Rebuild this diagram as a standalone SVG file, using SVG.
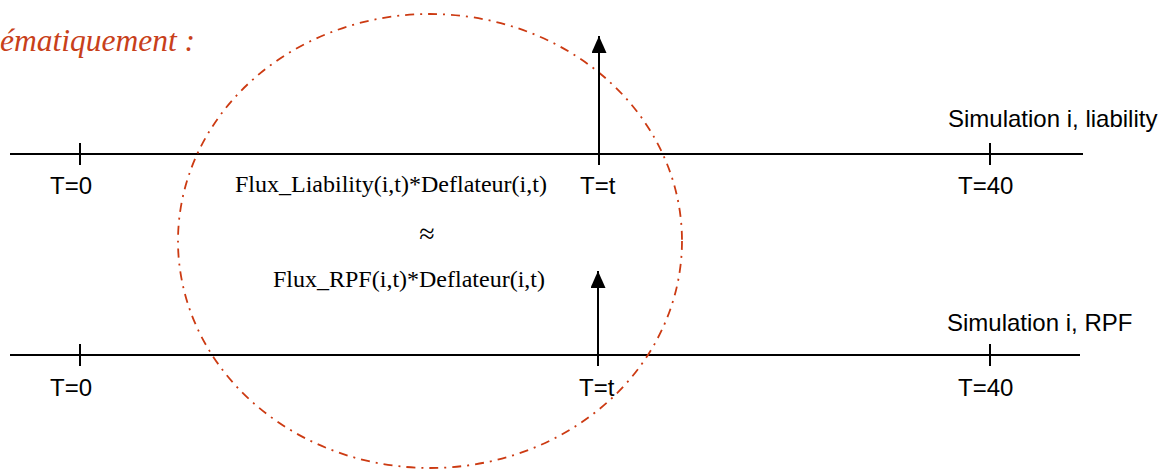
<svg xmlns="http://www.w3.org/2000/svg" width="1169" height="469" viewBox="0 0 1169 469">
<defs>
<style>
.ax{stroke:#000;stroke-width:2;fill:none}
.lbl{font-family:"Liberation Sans",Arial,sans-serif;font-size:24px;fill:#000}
.tm{font-family:"Liberation Serif","Times New Roman",serif;font-size:24px;fill:#000}
.ttl{font-family:"Liberation Serif","Times New Roman",serif;font-style:italic;font-size:31.5px;fill:#C8401A}
.circ{fill:none;stroke:#CC3A12;stroke-width:1.8;stroke-dasharray:9 6 2 6}
</style>
<marker id="ah" markerWidth="17" markerHeight="15" refX="17" refY="7.5" orient="auto" markerUnits="userSpaceOnUse" viewBox="0 0 17 15">
<path d="M0,0 L17,7.5 L0,15 Z" fill="#000"/>
</marker>
</defs>
<rect width="1169" height="469" fill="#fff"/>
<text class="ttl" x="0" y="51">ématiquement :</text>
<g id="timeline-liability">
<line class="ax" x1="10" y1="154" x2="1083" y2="154"/>
<line class="ax" x1="80" y1="143" x2="80" y2="165"/>
<line class="ax" x1="599" y1="143" x2="599" y2="165"/>
<line class="ax" x1="990" y1="143" x2="990" y2="165"/>
<text class="lbl" x="50" y="194">T=0</text>
<text class="lbl" x="580" y="194">T=t</text>
<text class="lbl" x="958" y="194">T=40</text>
<text class="lbl" x="948" y="127">Simulation i, liability</text>
</g>
<g id="timeline-rpf">
<line class="ax" x1="10" y1="355" x2="1080" y2="355"/>
<line class="ax" x1="80" y1="344" x2="80" y2="366"/>
<line class="ax" x1="598" y1="344" x2="598" y2="366"/>
<line class="ax" x1="990" y1="344" x2="990" y2="366"/>
<text class="lbl" x="50" y="396">T=0</text>
<text class="lbl" x="579" y="396">T=t</text>
<text class="lbl" x="958" y="396">T=40</text>
<text class="lbl" x="947" y="331">Simulation i, RPF</text>
</g>
<g id="formula">
<text class="tm" x="235" y="192">Flux_Liability(i,t)*Deflateur(i,t)</text>
<text class="tm" x="427" y="243" text-anchor="middle" style="font-size:28px">≈</text>
<text class="tm" x="273" y="287">Flux_RPF(i,t)*Deflateur(i,t)</text>
</g>
<g id="highlight">
<ellipse class="circ" cx="430" cy="241" rx="252" ry="227"/>
</g>
<g id="connectors">
<line class="ax" x1="599" y1="154" x2="599" y2="36" marker-end="url(#ah)"/>
<line class="ax" x1="598" y1="355" x2="598" y2="271" marker-end="url(#ah)"/>
</g>
</svg>
